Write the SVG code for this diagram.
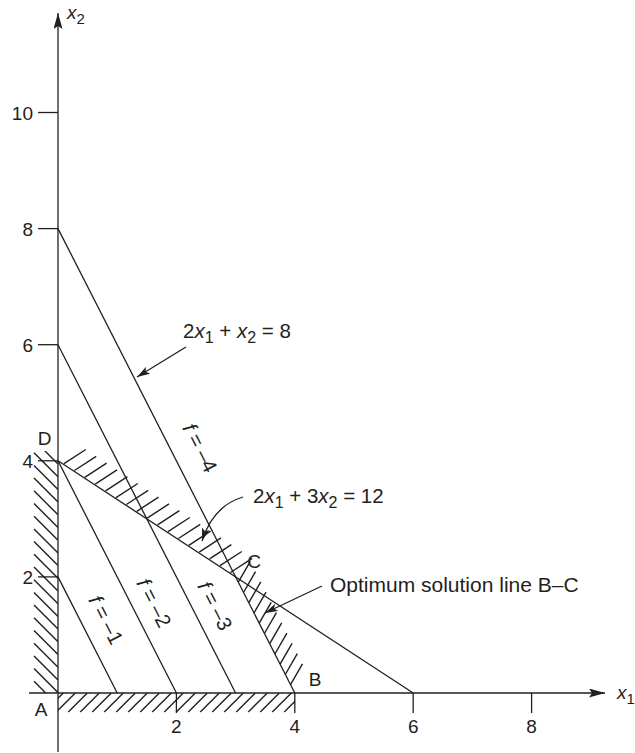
<svg xmlns="http://www.w3.org/2000/svg" width="635" height="753" viewBox="0 0 635 753">
<style>
.ln{stroke:#231f20;stroke-width:1.3;fill:none}
.h{stroke:#231f20;stroke-width:1.4;fill:none}
.t{font-family:"Liberation Sans",Arial,sans-serif;font-size:19px;fill:#231f20}
.a{font-size:20.5px}
.i{font-style:italic}
</style>
<defs>
<marker id="axh" viewBox="0 0 16 9" refX="16" refY="4.5" markerWidth="16" markerHeight="9" markerUnits="userSpaceOnUse" orient="auto"><path d="M0,0 L16,4.5 L0,9 L3,4.5 z" fill="#231f20"/></marker>
<marker id="ah" viewBox="0 0 13 8" refX="13" refY="4" markerWidth="13" markerHeight="8" markerUnits="userSpaceOnUse" orient="auto"><path d="M0,0 L13,4 L0,8 L3,4 z" fill="#231f20"/></marker>
<clipPath id="cl"><rect x="33" y="451" width="25" height="242"/></clipPath>
<clipPath id="cb"><rect x="58" y="693" width="237" height="20"/></clipPath>
</defs>
<rect width="635" height="753" fill="#fff"/>

<g id="axes">
<line class="ln" x1="58" y1="752" x2="58" y2="13" marker-end="url(#axh)"/>
<line class="ln" x1="29" y1="693" x2="605" y2="693" marker-end="url(#axh)"/>
<g class="ln">
<line x1="38" y1="112.5" x2="58" y2="112.5"/>
<line x1="38" y1="228.6" x2="58" y2="228.6"/>
<line x1="38" y1="344.7" x2="58" y2="344.7"/>
<line x1="38" y1="460.8" x2="58" y2="460.8"/>
<line x1="38" y1="576.9" x2="58" y2="576.9"/>
<line x1="176.4" y1="693" x2="176.4" y2="713"/>
<line x1="294.8" y1="693" x2="294.8" y2="713"/>
<line x1="413.2" y1="693" x2="413.2" y2="713"/>
<line x1="531.6" y1="693" x2="531.6" y2="713"/>
</g>
<g class="t" text-anchor="end">
<text x="33" y="119.5">10</text>
<text x="33" y="235.6">8</text>
<text x="33" y="351.7">6</text>
<text x="33" y="467.8">4</text>
<text x="33" y="583.9">2</text>
</g>
<g class="t" text-anchor="middle">
<text x="176.4" y="733">2</text>
<text x="294.8" y="733">4</text>
<text x="413.2" y="733">6</text>
<text x="531.6" y="733">8</text>
</g>
<text class="t" x="67" y="19"><tspan class="i">x</tspan><tspan font-size="15" dy="5">2</tspan></text>
<text class="t" x="617" y="699"><tspan class="i">x</tspan><tspan font-size="15" dy="5">1</tspan></text>
</g>

<g id="hatching">
<g clip-path="url(#cl)" class="h">
<line x1="34" y1="440" x2="58" y2="464"/>
<line x1="34" y1="452.7" x2="58" y2="476.7"/>
<line x1="34" y1="465.4" x2="58" y2="489.4"/>
<line x1="34" y1="478.1" x2="58" y2="502.1"/>
<line x1="34" y1="490.8" x2="58" y2="514.8"/>
<line x1="34" y1="503.5" x2="58" y2="527.5"/>
<line x1="34" y1="516.2" x2="58" y2="540.2"/>
<line x1="34" y1="528.9" x2="58" y2="552.9"/>
<line x1="34" y1="541.6" x2="58" y2="565.6"/>
<line x1="34" y1="554.3" x2="58" y2="578.3"/>
<line x1="34" y1="567" x2="58" y2="591"/>
<line x1="34" y1="579.7" x2="58" y2="603.7"/>
<line x1="34" y1="592.4" x2="58" y2="616.4"/>
<line x1="34" y1="605.1" x2="58" y2="629.1"/>
<line x1="34" y1="617.8" x2="58" y2="641.8"/>
<line x1="34" y1="630.5" x2="58" y2="654.5"/>
<line x1="34" y1="643.2" x2="58" y2="667.2"/>
<line x1="34" y1="655.9" x2="58" y2="679.9"/>
<line x1="34" y1="668.6" x2="58" y2="692.6"/>
<line x1="34" y1="681.3" x2="58" y2="705.3"/>
</g>
<g clip-path="url(#cb)" class="h">
<line x1="44.3" y1="712" x2="63.3" y2="693"/>
<line x1="56.3" y1="712" x2="75.3" y2="693"/>
<line x1="68.3" y1="712" x2="87.3" y2="693"/>
<line x1="80.3" y1="712" x2="99.3" y2="693"/>
<line x1="92.3" y1="712" x2="111.3" y2="693"/>
<line x1="104.3" y1="712" x2="123.3" y2="693"/>
<line x1="116.3" y1="712" x2="135.3" y2="693"/>
<line x1="128.3" y1="712" x2="147.3" y2="693"/>
<line x1="140.3" y1="712" x2="159.3" y2="693"/>
<line x1="152.3" y1="712" x2="171.3" y2="693"/>
<line x1="164.3" y1="712" x2="183.3" y2="693"/>
<line x1="176.3" y1="712" x2="195.3" y2="693"/>
<line x1="188.3" y1="712" x2="207.3" y2="693"/>
<line x1="200.3" y1="712" x2="219.3" y2="693"/>
<line x1="212.3" y1="712" x2="231.3" y2="693"/>
<line x1="224.3" y1="712" x2="243.3" y2="693"/>
<line x1="236.3" y1="712" x2="255.3" y2="693"/>
<line x1="248.3" y1="712" x2="267.3" y2="693"/>
<line x1="260.3" y1="712" x2="279.3" y2="693"/>
<line x1="272.3" y1="712" x2="291.3" y2="693"/>
<line x1="284.3" y1="712" x2="303.3" y2="693"/>
</g>
<g class="h">
<line x1="64" y1="463.7" x2="85.8" y2="449.5"/>
<line x1="74.4" y1="470.5" x2="96.2" y2="456.3"/>
<line x1="84.8" y1="477.3" x2="106.6" y2="463.1"/>
<line x1="95.2" y1="484.1" x2="117" y2="469.9"/>
<line x1="105.6" y1="490.9" x2="127.4" y2="476.7"/>
<line x1="116" y1="497.7" x2="137.8" y2="483.5"/>
<line x1="126.4" y1="504.5" x2="148.2" y2="490.3"/>
<line x1="136.8" y1="511.3" x2="158.6" y2="497.1"/>
<line x1="147.2" y1="518.1" x2="169" y2="503.9"/>
<line x1="157.6" y1="524.9" x2="179.4" y2="510.7"/>
<line x1="168" y1="531.7" x2="189.8" y2="517.5"/>
<line x1="178.4" y1="538.5" x2="200.2" y2="524.3"/>
<line x1="188.8" y1="545.3" x2="210.6" y2="531.1"/>
<line x1="199.2" y1="552.1" x2="221" y2="537.9"/>
<line x1="209.6" y1="558.9" x2="231.4" y2="544.7"/>
<line x1="220" y1="565.7" x2="241.8" y2="551.5"/>
<line x1="230.4" y1="572.5" x2="252.2" y2="558.3"/>
</g>
<g class="h">
<line x1="238.3" y1="582.2" x2="250.3" y2="561.4"/>
<line x1="243.5" y1="592.5" x2="255.5" y2="571.7"/>
<line x1="248.8" y1="602.7" x2="260.8" y2="581.9"/>
<line x1="254" y1="613" x2="266" y2="592.2"/>
<line x1="259.2" y1="623.2" x2="271.2" y2="602.4"/>
<line x1="264.4" y1="633.5" x2="276.4" y2="612.7"/>
<line x1="269.7" y1="643.7" x2="281.7" y2="622.9"/>
<line x1="274.9" y1="654" x2="286.9" y2="633.2"/>
<line x1="280.1" y1="664.2" x2="292.1" y2="643.4"/>
<line x1="285.3" y1="674.5" x2="297.3" y2="653.7"/>
<line x1="290.5" y1="684.7" x2="302.5" y2="663.9"/>
</g>
</g>

<g id="lines">
<line id="c1" class="ln" x1="58" y1="228.6" x2="294.8" y2="693"/>
<line id="c2" class="ln" x1="58" y1="460.8" x2="413.2" y2="693"/>
<line id="f1" class="ln" x1="58" y1="576.9" x2="117.2" y2="693"/>
<line id="f2" class="ln" x1="58" y1="460.8" x2="176.4" y2="693"/>
<line id="f3" class="ln" x1="58" y1="344.7" x2="235.6" y2="693"/>
</g>

<g id="point-labels" class="t" text-anchor="middle">
<text x="44.5" y="445">D</text>
<text x="41" y="716">A</text>
<text x="254" y="568">C</text>
<text x="315" y="686">B</text>
</g>

<g id="f-labels" class="t a" text-anchor="middle">
<text transform="translate(106,620) rotate(63)" y="7"><tspan class="i">f</tspan> = –1</text>
<text transform="translate(154,603) rotate(63)" y="7"><tspan class="i">f</tspan> = –2</text>
<text transform="translate(215,606) rotate(63)" y="7"><tspan class="i">f</tspan> = –3</text>
<text transform="translate(200,448) rotate(63)" y="7"><tspan class="i">f</tspan> = –4</text>
</g>

<g id="connectors">
<line class="ln" x1="186" y1="347" x2="137" y2="377" marker-end="url(#ah)"/>
<path class="ln" d="M243,497 Q213,506 202,541" marker-end="url(#ah)"/>
<line class="ln" x1="322" y1="586" x2="265" y2="613" marker-end="url(#ah)"/>
</g>

<g id="annotations" class="t a">
<text x="183" y="338">2<tspan class="i">x</tspan><tspan font-size="16" dy="5">1</tspan><tspan dy="-5"> + </tspan><tspan class="i">x</tspan><tspan font-size="16" dy="5">2</tspan><tspan dy="-5"> = 8</tspan></text>
<text x="253" y="503">2<tspan class="i">x</tspan><tspan font-size="16" dy="5">1</tspan><tspan dy="-5"> + 3</tspan><tspan class="i">x</tspan><tspan font-size="16" dy="5">2</tspan><tspan dy="-5"> = 12</tspan></text>
<text x="330" y="592" font-size="21">Optimum solution line B–C</text>
</g>
</svg>
